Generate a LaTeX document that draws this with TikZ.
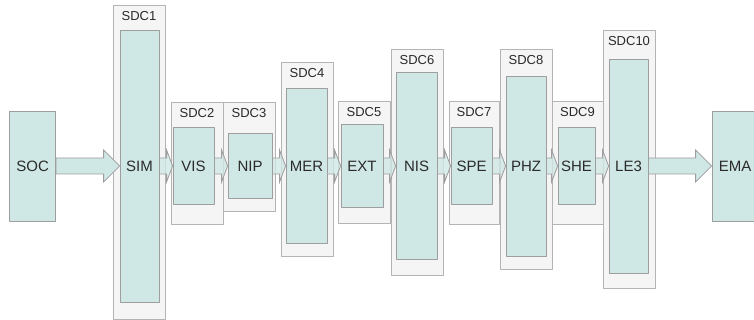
\documentclass[tikz,border=0pt]{standalone}
\usepackage{fontspec}
\setmainfont{Liberation Sans}
\usepackage{tikz}
\usetikzlibrary{calc,positioning}
\definecolor{toolfill}{HTML}{D0E8E5}
\definecolor{toolline}{HTML}{9E9E9E}
\definecolor{sdcfill}{HTML}{F5F5F5}
\definecolor{sdcline}{HTML}{B4B4B4}
\definecolor{labeltext}{HTML}{2A2A2A}
\tikzstyle{sdcbox}=[draw=sdcline,fill=sdcfill,line width=0.8pt,inner sep=0pt]
\tikzstyle{tool}=[draw=toolline,fill=toolfill,line width=0.8pt,inner sep=0pt,text=labeltext,font=\fontsize{15}{18}\selectfont]
\tikzstyle{sdctext}=[text=labeltext,font=\fontsize{13}{15}\selectfont,inner sep=2pt]
\tikzstyle{flow}=[draw=toolline,fill=toolfill,line width=0.8pt,line join=miter]
\tikzstyle{shortflow}=[flow,fill opacity=0.8]
% block arrow: style, head length, from node, to node
\newcommand{\flowarrow}[4]{%
  \draw[#1] let \p1=(#3.east), \p2=(#4.west) in
    (\x1,\y1+8pt) -- (\x2-#2,\y1+8pt) -- (\x2-#2,\y1+16pt) -- (\x2,\y1)
    -- (\x2-#2,\y1-16pt) -- (\x2-#2,\y1-8pt) -- (\x1,\y1-8pt) -- cycle;}

\begin{document}
\begin{tikzpicture}[line cap=round,line join=round,x=1pt,y=1pt]
\useasboundingbox (0,0) rectangle (754,320);
% science data centres
\node[sdcbox,minimum width=52,minimum height=314] (sdc1) at (139,158) {};
\node[sdcbox,minimum width=52,minimum height=122] (sdc2) at (197,157) {};
\node[sdcbox,minimum width=52,minimum height=109] (sdc3) at (249,163.5) {};
\node[sdcbox,minimum width=52,minimum height=194] (sdc4) at (307,161) {};
\node[sdcbox,minimum width=52,minimum height=122] (sdc5) at (364,158) {};
\node[sdcbox,minimum width=52,minimum height=226] (sdc6) at (417,158) {};
\node[sdcbox,minimum width=50,minimum height=123] (sdc7) at (474,157.5) {};
\node[sdcbox,minimum width=52,minimum height=220] (sdc8) at (526,161) {};
\node[sdcbox,minimum width=51,minimum height=123] (sdc9) at (577.5,157.5) {};
\node[sdcbox,minimum width=52,minimum height=258] (sdc10) at (629,161) {};
\node[sdctext,below=5pt of sdc1.north] (sdc1t) {SDC1};
\node[sdctext,below=5pt of sdc2.north] (sdc2t) {SDC2};
\node[sdctext,below=5pt of sdc3.north] (sdc3t) {SDC3};
\node[sdctext,below=5pt of sdc4.north] (sdc4t) {SDC4};
\node[sdctext,below=5pt of sdc5.north] (sdc5t) {SDC5};
\node[sdctext,below=5pt of sdc6.north] (sdc6t) {SDC6};
\node[sdctext,below=5pt of sdc7.north] (sdc7t) {SDC7};
\node[sdctext,below=5pt of sdc8.north] (sdc8t) {SDC8};
\node[sdctext,below=5pt of sdc9.north] (sdc9t) {SDC9};
\node[sdctext,below=5pt of sdc10.north] (sdc10t) {SDC10};
% processing functions
\node[tool,minimum width=46,minimum height=110] (soc) at (32.6,154) {SOC};
\node[tool,minimum width=39,minimum height=272] (sim) at (139.5,154) {SIM};
\node[tool,minimum width=41,minimum height=77] (vis) at (193.5,154) {VIS};
\node[tool,minimum width=44,minimum height=65] (nip) at (250,154) {NIP};
\node[tool,minimum width=41,minimum height=155] (mer) at (306.5,154) {MER};
\node[tool,minimum width=42,minimum height=83] (ext) at (362,154) {EXT};
\node[tool,minimum width=41,minimum height=187] (nis) at (416.5,154) {NIS};
\node[tool,minimum width=41,minimum height=77] (spe) at (471.5,154) {SPE};
\node[tool,minimum width=40,minimum height=180] (phz) at (526,154) {PHZ};
\node[tool,minimum width=37,minimum height=77] (she) at (576.5,154) {SHE};
\node[tool,minimum width=39,minimum height=214] (le3) at (628.5,154) {LE3};
\node[tool,minimum width=46,minimum height=110] (ema) at (735,154) {EMA};
% data flow
\flowarrow{flow}{16pt}{soc}{sim}
\flowarrow{shortflow}{6pt}{sim}{vis}
\flowarrow{shortflow}{6pt}{vis}{nip}
\flowarrow{shortflow}{6pt}{nip}{mer}
\flowarrow{shortflow}{6pt}{mer}{ext}
\flowarrow{shortflow}{6pt}{ext}{nis}
\flowarrow{shortflow}{6pt}{nis}{spe}
\flowarrow{shortflow}{6pt}{spe}{phz}
\flowarrow{shortflow}{6pt}{phz}{she}
\flowarrow{shortflow}{6pt}{she}{le3}
\flowarrow{flow}{16pt}{le3}{ema}
\end{tikzpicture}
\end{document}
